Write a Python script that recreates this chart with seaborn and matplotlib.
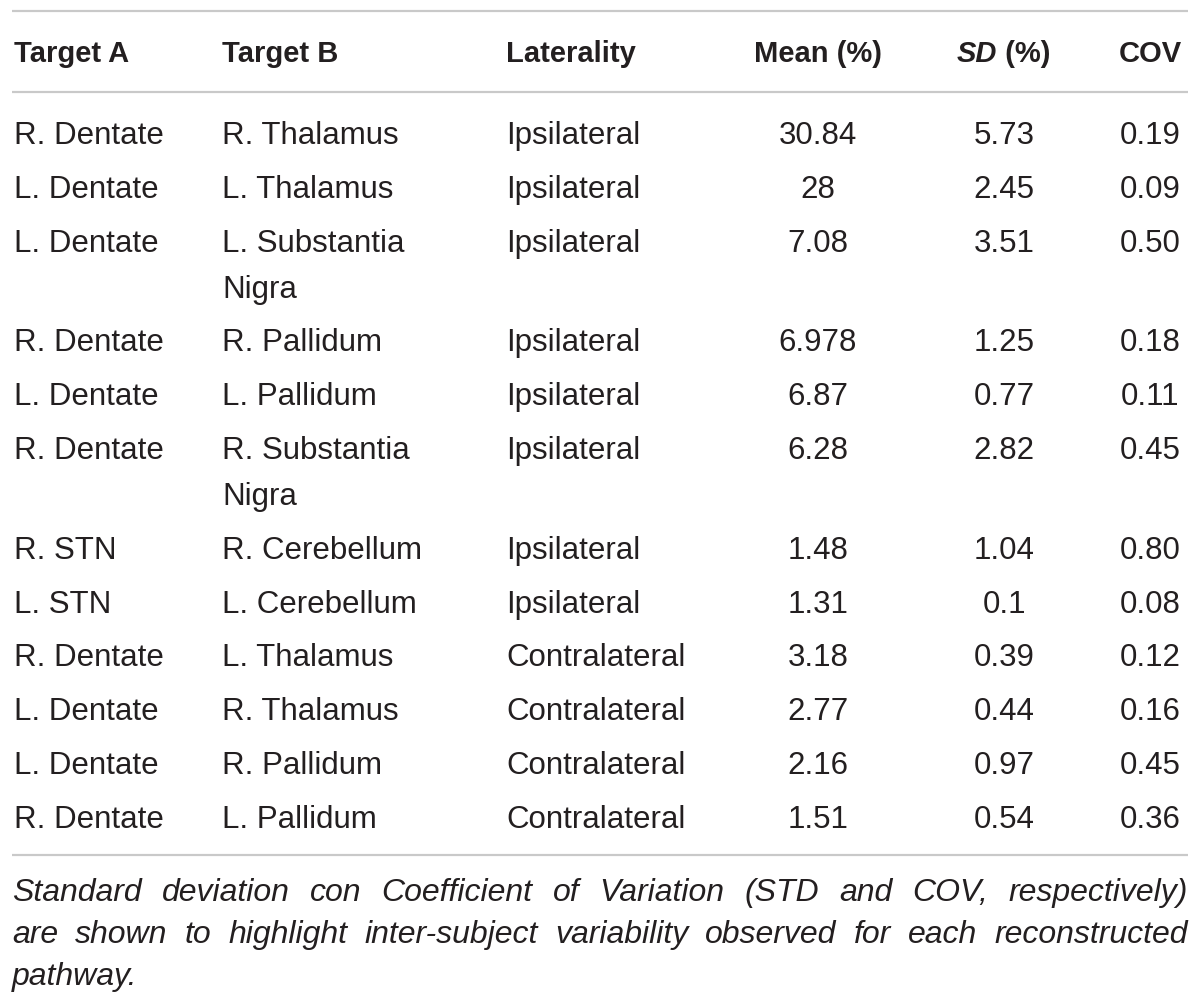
import textwrap
import numpy as np
import pandas as pd
import seaborn as sns
import matplotlib.pyplot as plt

sns.set_theme(style="white", rc={"axes.facecolor": "white"})
plt.rcParams['font.family'] = ['Liberation Sans', 'DejaVu Sans']

# table content
headers = ['Target A', 'Target B', 'Laterality', 'Mean (%)', 'SD (%)', 'COV']
target_a = ['R. Dentate', 'L. Dentate', 'L. Dentate', 'R. Dentate', 'L. Dentate', 'R. Dentate',
            'R. STN', 'L. STN', 'R. Dentate', 'L. Dentate', 'L. Dentate', 'R. Dentate']
target_b = ['R. Thalamus', 'L. Thalamus', 'L. Substantia Nigra', 'R. Pallidum', 'L. Pallidum',
            'R. Substantia Nigra', 'R. Cerebellum', 'L. Cerebellum', 'L. Thalamus', 'R. Thalamus',
            'R. Pallidum', 'L. Pallidum']
laterality = ['Ipsilateral'] * 8 + ['Contralateral'] * 4
mean_pct = ['30.84', '28', '7.08', '6.978', '6.87', '6.28', '1.48', '1.31', '3.18', '2.77', '2.16', '1.51']
sd_pct = ['5.73', '2.45', '3.51', '1.25', '0.77', '2.82', '1.04', '0.1', '0.39', '0.44', '0.97', '0.54']
cov = ['0.19', '0.09', '0.50', '0.18', '0.11', '0.45', '0.80', '0.08', '0.12', '0.16', '0.45', '0.36']
caption_lines = [
    'Standard deviation con Coefficient of Variation (STD and COV, respectively)',
    'are shown to highlight inter-subject variability observed for each reconstructed',
    'pathway.',
]

df = pd.DataFrame({'Target A': target_a, 'Target B': target_b, 'Laterality': laterality,
                   'Mean (%)': mean_pct, 'SD (%)': sd_pct, 'COV': cov})

# layout (pixel space)
W, H = 1200, 1003
left, right = 12, 1188
col_x = [14, 222, 506, 818, 1004, 1150]
col_ha = ['left', 'left', 'left', 'center', 'center', 'center']
text_col = '#231f20'
rule_col = '#c9c9c9'
body_fs = 22.5
head_fs = 21
cap_fs = 23
row_step = 53.8
extra_line = 46

fig = plt.figure(figsize=(W / 100, H / 100), dpi=100)
ax = fig.add_axes([0, 0, 1, 1])
ax.set_xlim(0, W)
ax.set_ylim(H, 0)
ax.axis('off')
renderer = fig.canvas.get_renderer()


def text_width(s, **kw):
    t = ax.text(0, 0, s, **kw)
    w = t.get_window_extent(renderer).width
    t.remove()
    return w


# rules
for y in [12, 93, 856]:
    ax.plot([left, right], [y, y], color=rule_col, lw=1.6, solid_capstyle='butt')

# header (SD set in italic)
for x, ha, h in zip(col_x, col_ha, headers):
    if h == 'SD (%)':
        w1 = text_width('SD', fontsize=head_fs, fontweight='bold', style='italic')
        w2 = text_width(' (%)', fontsize=head_fs, fontweight='bold')
        x0 = x - (w1 + w2) / 2
        ax.text(x0, 62, 'SD', fontsize=head_fs, fontweight='bold', style='italic',
                va='baseline', color=text_col)
        ax.text(x0 + w1, 62, ' (%)', fontsize=head_fs, fontweight='bold',
                va='baseline', color=text_col)
    else:
        ax.text(x, 62, h, fontsize=head_fs, fontweight='bold', ha=ha, va='baseline', color=text_col)

# body rows
y = 133
for _, row in df.iterrows():
    max_lines = 1
    for x, ha, col in zip(col_x, col_ha, df.columns):
        lines = textwrap.wrap(row[col], 15)
        max_lines = max(max_lines, len(lines))
        for k, line in enumerate(lines):
            ax.text(x, y + 11 + k * extra_line, line, fontsize=body_fs, ha=ha, va='baseline',
                    color=text_col)
    y += row_step + (max_lines - 1) * extra_line

# caption, justified
space_w = text_width('a a', fontsize=cap_fs, style='italic') - text_width('aa', fontsize=cap_fs, style='italic')
for i, line in enumerate(caption_lines):
    yb = 890 + 11 + i * 42
    words = line.split()
    widths = [text_width(w, fontsize=cap_fs, style='italic') for w in words]
    if i < len(caption_lines) - 1:
        gap = (right - left - sum(widths)) / (len(words) - 1)
    else:
        gap = space_w
    x = left
    for w, wd in zip(words, widths):
        ax.text(x, yb, w, fontsize=cap_fs, style='italic', ha='left', va='baseline', color=text_col)
        x += wd + gap

fig.savefig('out.png', dpi=100)
